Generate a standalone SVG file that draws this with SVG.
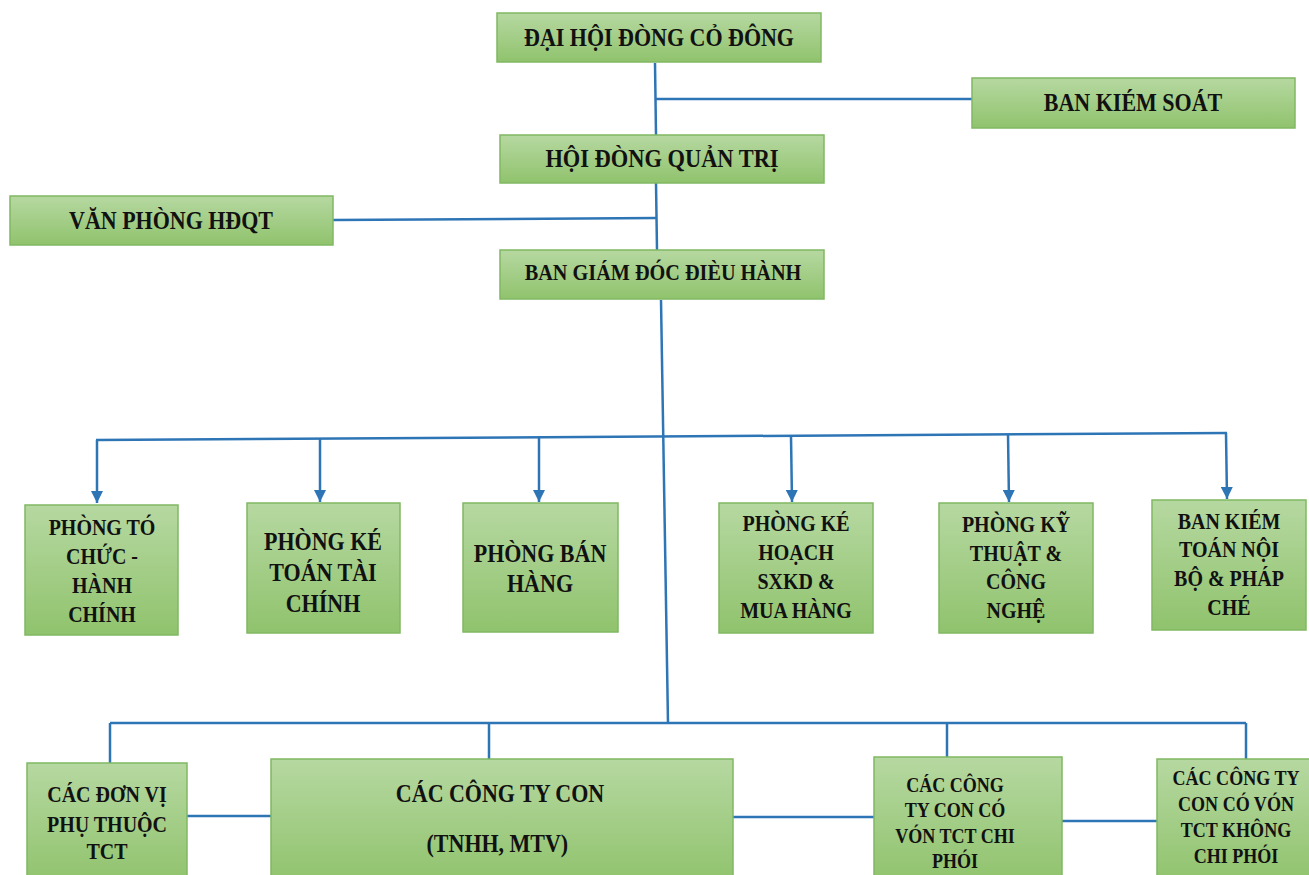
<svg xmlns="http://www.w3.org/2000/svg" width="1309" height="875" viewBox="0 0 1309 875">
<defs>
<linearGradient id="g" x1="0" y1="0" x2="0" y2="1">
<stop offset="0" stop-color="#b6d8a1"/>
<stop offset="1" stop-color="#90c36d"/>
</linearGradient>
<marker id="arr" markerWidth="12" markerHeight="12" refX="10" refY="5" orient="auto" markerUnits="userSpaceOnUse" viewBox="0 0 10 10">
<path d="M0,0 L10,5 L0,10 z" fill="#2e75b6"/>
</marker>
</defs>
<style>
rect{fill:url(#g);stroke:#80b862;stroke-width:1.5}
text{font-family:"Liberation Serif","Times New Roman",serif;font-weight:bold;fill:#111;text-anchor:middle}
.c{stroke:#2e75b6;stroke-width:2.5;fill:none}
.a{marker-end:url(#arr)}
</style>
<g id="connectors">
<line class="c" x1="655" y1="63" x2="656" y2="135"/>
<line class="c" x1="656" y1="99" x2="972" y2="99"/>
<line class="c" x1="656" y1="183" x2="657" y2="250"/>
<line class="c" x1="333" y1="220" x2="657" y2="218"/>
<line class="c" x1="661" y1="300" x2="668" y2="723"/>
<line class="c" x1="96" y1="440" x2="1227" y2="433"/>
<line class="c a" x1="97" y1="440" x2="97" y2="503"/>
<line class="c a" x1="320" y1="439" x2="320" y2="502"/>
<line class="c a" x1="539" y1="437" x2="539" y2="502"/>
<line class="c a" x1="791" y1="436" x2="792" y2="502"/>
<line class="c a" x1="1008" y1="434" x2="1009" y2="502"/>
<line class="c a" x1="1226" y1="433" x2="1227" y2="499"/>
<line class="c" x1="110" y1="723" x2="1246" y2="723"/>
<line class="c" x1="110" y1="723" x2="110" y2="763"/>
<line class="c" x1="489" y1="723" x2="489" y2="759"/>
<line class="c" x1="947" y1="723" x2="947" y2="757"/>
<line class="c" x1="1246" y1="723" x2="1246" y2="759"/>
<line class="c" x1="187" y1="816" x2="271" y2="816"/>
<line class="c" x1="733" y1="817" x2="874" y2="817"/>
<line class="c" x1="1062" y1="821" x2="1157" y2="821"/>
</g>
<g id="dhdcd"><rect x="497" y="13" width="324" height="49"/><text transform="translate(659 0) scale(0.88 1)" x="0" y="46" font-size="25">ĐẠI HỘI ĐÒNG CỎ ĐÔNG</text></g>
<g id="bks"><rect x="972" y="78" width="323" height="50"/><text transform="translate(1133 0) scale(0.88 1)" x="0" y="111" font-size="25">BAN KIÉM SOÁT</text></g>
<g id="hdqt"><rect x="500" y="135" width="324" height="48"/><text transform="translate(662 0) scale(0.88 1)" x="0" y="167" font-size="25.5">HỘI ĐÒNG QUẢN TRỊ</text></g>
<g id="vphdqt"><rect x="10" y="196" width="323" height="49"/><text transform="translate(171 0) scale(0.88 1)" x="0" y="229" font-size="25">VĂN PHÒNG HĐQT</text></g>
<g id="bgd"><rect x="500" y="250" width="324" height="49"/><text transform="translate(663 0) scale(0.88 1)" x="0" y="280" font-size="23">BAN GIÁM ĐÓC ĐIÈU HÀNH</text></g>
<g id="p1"><rect x="25" y="505" width="153" height="130"/>
<text transform="translate(102 0) scale(0.88 1)" font-size="22.7"><tspan x="0" y="535">PHÒNG TÓ</tspan><tspan x="0" y="564">CHỨC -</tspan><tspan x="0" y="593">HÀNH</tspan><tspan x="0" y="622">CHÍNH</tspan></text></g>
<g id="p2"><rect x="247" y="503" width="153" height="130"/>
<text transform="translate(323 0) scale(0.88 1)" font-size="25"><tspan x="0" y="550">PHÒNG KÉ</tspan><tspan x="0" y="581">TOÁN TÀI</tspan><tspan x="0" y="612">CHÍNH</tspan></text></g>
<g id="p3"><rect x="463" y="503" width="155" height="129"/>
<text transform="translate(540 0) scale(0.88 1)" font-size="25"><tspan x="0" y="562">PHÒNG BÁN</tspan><tspan x="0" y="592">HÀNG</tspan></text></g>
<g id="p4"><rect x="719" y="503" width="154" height="130"/>
<text transform="translate(796 0) scale(0.88 1)" font-size="22.7"><tspan x="0" y="531">PHÒNG KÉ</tspan><tspan x="0" y="560">HOẠCH</tspan><tspan x="0" y="589">SXKD &amp;</tspan><tspan x="0" y="618">MUA HÀNG</tspan></text></g>
<g id="p5"><rect x="939" y="503" width="154" height="130"/>
<text transform="translate(1016 0) scale(0.88 1)" font-size="22.7"><tspan x="0" y="532">PHÒNG KỸ</tspan><tspan x="0" y="561">THUẬT &amp;</tspan><tspan x="0" y="589">CÔNG</tspan><tspan x="0" y="618">NGHỆ</tspan></text></g>
<g id="p6"><rect x="1152" y="500" width="154" height="130"/>
<text transform="translate(1229 0) scale(0.88 1)" font-size="22.7"><tspan x="0" y="529">BAN KIÉM</tspan><tspan x="0" y="557">TOÁN NỘI</tspan><tspan x="0" y="586">BỘ &amp; PHÁP</tspan><tspan x="0" y="615">CHÉ</tspan></text></g>
<g id="b1"><rect x="27" y="763" width="160" height="120"/>
<text transform="translate(107 0) scale(0.88 1)" font-size="22.7"><tspan x="0" y="802">CÁC ĐƠN VỊ</tspan><tspan x="0" y="832">PHỤ THUỘC</tspan><tspan x="0" y="859">TCT</tspan></text></g>
<g id="b2"><rect x="271" y="759" width="462" height="124"/>
<text transform="translate(500 0) scale(0.88 1)" font-size="25"><tspan x="0" y="802">CÁC CÔNG TY CON</tspan><tspan x="-3" y="852">(TNHH, MTV)</tspan></text></g>
<g id="b3"><rect x="874" y="757" width="188" height="126"/>
<text transform="translate(955 0) scale(0.88 1)" font-size="20.5"><tspan x="0" y="792">CÁC CÔNG</tspan><tspan x="0" y="817">TY CON CÓ</tspan><tspan x="0" y="843">VÓN TCT CHI</tspan><tspan x="0" y="868">PHÓI</tspan></text></g>
<g id="b4"><rect x="1157" y="759" width="160" height="124"/>
<text transform="translate(1236 0) scale(0.88 1)" font-size="20.5"><tspan x="0" y="785">CÁC CÔNG TY</tspan><tspan x="0" y="811">CON CÓ VÓN</tspan><tspan x="0" y="837">TCT KHÔNG</tspan><tspan x="0" y="863">CHI PHÓI</tspan></text></g>
</svg>
